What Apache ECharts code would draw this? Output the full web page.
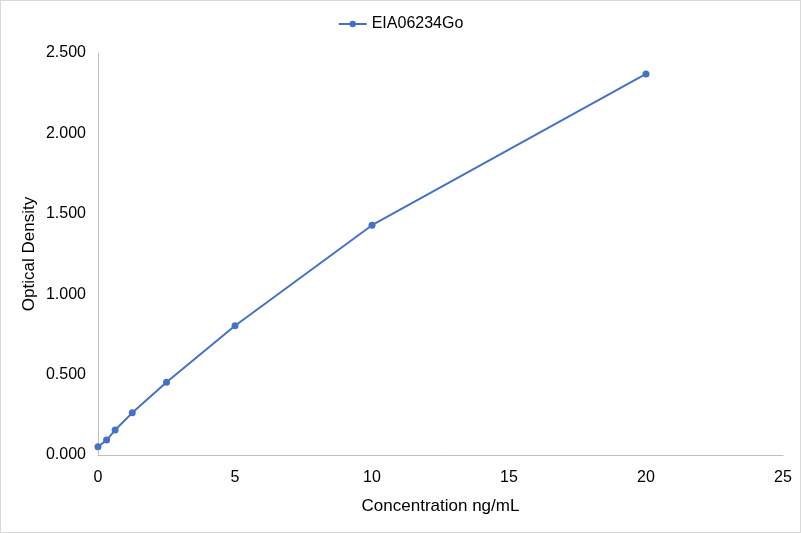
<!DOCTYPE html>
<html>
<head>
<meta charset="utf-8">
<script src="https://cdn.jsdelivr.net/npm/echarts@6/dist/echarts.min.js"></script>
<style>
  html, body { margin: 0; padding: 0; background: #fff; }
  #chart { width: 801px; height: 533px; box-sizing: border-box; border: 1px solid #d9d9d9; }
</style>
</head>
<body>
<div id="chart"></div>
<script>
// 标准曲线数据
var seriesName = 'EIA06234Go';
var concentration = [0, 0.3125, 0.625, 1.25, 2.5, 5, 10, 20];
var density = [0.051, 0.093, 0.155, 0.262, 0.452, 0.804, 1.429, 2.370];

var points = concentration.map(function (c, i) { return [c, density[i]]; });

var myChart = echarts.init(document.getElementById('chart'));
var font = 'Liberation Sans, Arial, sans-serif';

var option = {
    animation: false,
    legend: {
        top: 10,
        left: 'center',
        itemWidth: 28,
        itemHeight: 8,
        itemGap: 6,
        textStyle: { fontFamily: font, fontSize: 16, color: '#000' },
        data: [seriesName]
    },
    grid: { left: 97, right: 17, top: 52, bottom: 77 },
    xAxis: {
        type: 'value',
        min: 0,
        max: 25,
        interval: 5,
        name: 'Concentration ng/mL',
        nameLocation: 'middle',
        nameGap: 43,
        nameMoveOverlap: false,
        nameTextStyle: { fontFamily: font, fontSize: 17, color: '#000' },
        axisLine: { show: true, lineStyle: { color: '#bfbfbf' } },
        axisTick: { show: false },
        splitLine: { show: false },
        axisLabel: { fontFamily: font, fontSize: 16, color: '#000', margin: 15 }
    },
    yAxis: {
        type: 'value',
        min: 0,
        max: 2.5,
        interval: 0.5,
        name: 'Optical Density',
        nameLocation: 'middle',
        nameGap: 60,
        nameMoveOverlap: false,
        nameTextStyle: { fontFamily: font, fontSize: 17, color: '#000' },
        axisLine: { show: true, lineStyle: { color: '#bfbfbf' } },
        axisTick: { show: false },
        splitLine: { show: false },
        axisLabel: {
            fontFamily: font, fontSize: 16, color: '#000', margin: 12,
            formatter: function (v) { return v.toFixed(3); }
        }
    },
    series: [{
        name: seriesName,
        type: 'line',
        data: points,
        symbol: 'circle',
        symbolSize: 7,
        itemStyle: { color: '#4472c4' },
        lineStyle: { color: '#4472c4', width: 2 }
    }]
};
myChart.setOption(option);
</script>
</body>
</html>
